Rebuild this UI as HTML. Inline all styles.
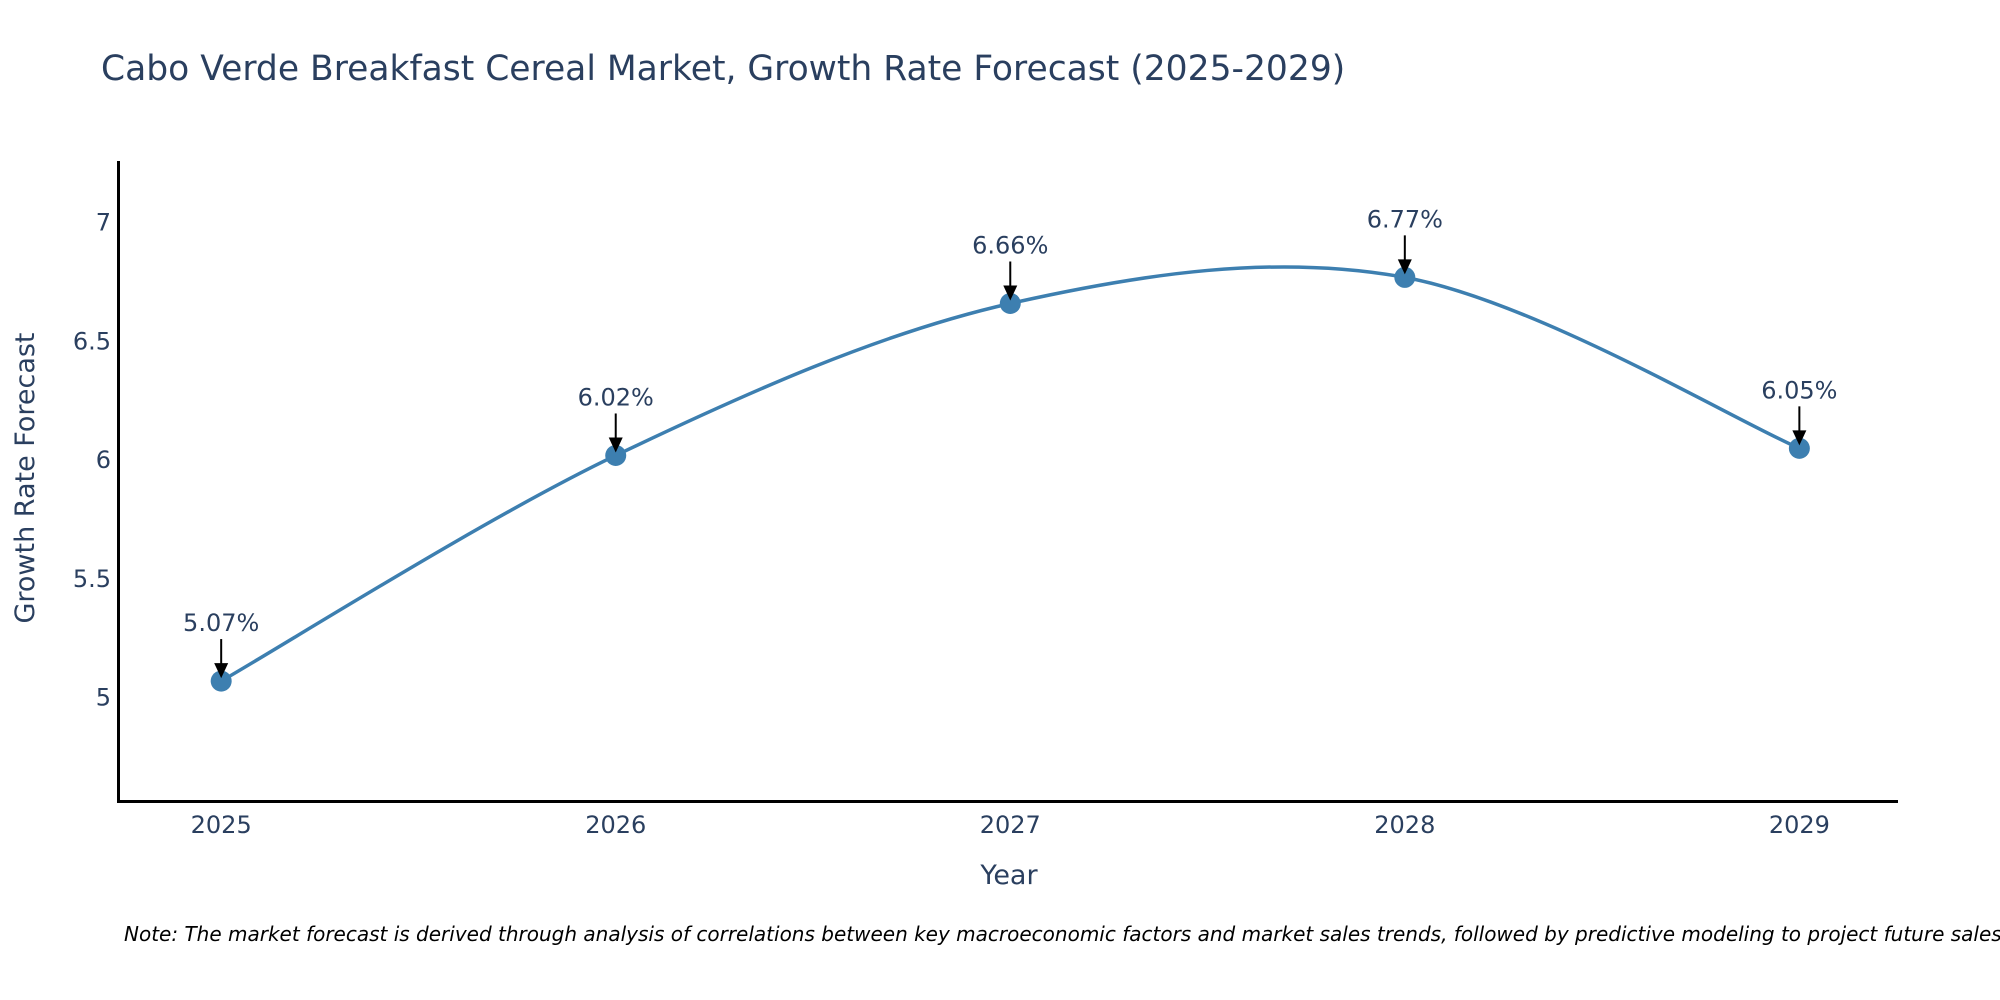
<!DOCTYPE html>
<html><head><meta charset="utf-8"><style>
html,body{margin:0;padding:0;background:#fff;}
svg{display:block;font-family:"DejaVu Sans","Liberation Sans",sans-serif;}
</style></head><body>
<svg id="chart" width="2000" height="1000" viewBox="0 0 2000 1000" xmlns="http://www.w3.org/2000/svg">
<text x="101" y="80" font-size="34.5" fill="#2a3f5f">Cabo Verde Breakfast Cereal Market, Growth Rate Forecast (2025-2029)</text>
<g id="grid"></g>
<g id="series"></g>
<g id="annots"></g>
<line x1="118.5" y1="161" x2="118.5" y2="802" stroke="#000" stroke-width="3"/>
<line x1="117" y1="801.5" x2="1898" y2="801.5" stroke="#000" stroke-width="3"/>
<text x="1009" y="884" font-size="27" fill="#2a3f5f" text-anchor="middle">Year</text>
<text transform="translate(34,478) rotate(-90)" font-size="27" fill="#2a3f5f" text-anchor="middle">Growth Rate Forecast</text>
<text x="124" y="941" font-size="20" font-style="italic" fill="#000">Note: The market forecast is derived through analysis of correlations between key macroeconomic factors and market sales trends, followed by predictive modeling to project future sales.</text>
</svg>
<script>
const years = [2025, 2026, 2027, 2028, 2029];
const growth = [5.07, 6.02, 6.66, 6.77, 6.05];
const labels = ["5.07%", "6.02%", "6.66%", "6.77%", "6.05%"];
const yTicks = [5, 5.5, 6, 6.5, 7];
const yTickLabels = ["5", "5.5", "6", "6.5", "7"];

const NS = "http://www.w3.org/2000/svg";
const xMin = 2024.74, xMax = 2029.25, pxL = 118.6, pxR = 1898;
const yMin = 4.565, yMax = 7.26, pyB = 801, pyT = 161;
function xs(v){ return pxL + (v - xMin) / (xMax - xMin) * (pxR - pxL); }
function ys(v){ return pyB - (v - yMin) / (yMax - yMin) * (pyB - pyT); }
function mk(tag, attrs, parent){ const e = document.createElementNS(NS, tag); for (const k in attrs) e.setAttribute(k, attrs[k]); parent.appendChild(e); return e; }

const grid = document.getElementById('grid');
yTicks.forEach((t, i) => {
  const tx = mk('text', {x: 111, y: ys(t) + 8, 'font-size': 24, fill: '#2a3f5f', 'text-anchor': 'end'}, grid);
  
  
  tx.textContent = yTickLabels[i];
});
years.forEach(yr => {
  const tx = mk('text', {x: xs(yr), y: 833, 'font-size': 24, fill: '#2a3f5f', 'text-anchor': 'middle'}, grid);
  
  
  tx.textContent = String(yr);
});

const pts = years.map((yr, i) => [xs(yr), ys(growth[i])]);
let d = `M${pts[0][0]},${pts[0][1]}`;
const s = 0.33;
for (let i = 0; i < pts.length - 1; i++) {
  const p0 = pts[Math.max(0, i - 1)], p1 = pts[i], p2 = pts[i + 1], p3 = pts[Math.min(pts.length - 1, i + 2)];
  const c1 = [p1[0] + (p2[0] - p0[0]) * s / 2, p1[1] + (p2[1] - p0[1]) * s / 2];
  const c2 = [p2[0] - (p3[0] - p1[0]) * s / 2, p2[1] - (p3[1] - p1[1]) * s / 2];
  d += ` C${c1[0]},${c1[1]} ${c2[0]},${c2[1]} ${p2[0]},${p2[1]}`;
}
const series = document.getElementById('series');
const line = mk('path', {d: d, fill: 'none', stroke: '#3d7fb0', 'stroke-width': 3.5}, series);


pts.forEach(p => {
  const c = mk('circle', {cx: p[0], cy: p[1], r: 10.5, fill: '#3d7fb0'}, series);
  
  
});

const ann = document.getElementById('annots');
pts.forEach((p, i) => {
  const ln = mk('line', {x1: p[0], y1: p[1] - 42, x2: p[0], y2: p[1] - 12, stroke: '#000', 'stroke-width': 2}, ann);
  
  
  const hd = mk('polygon', {points: `${p[0]-7},${p[1]-18} ${p[0]+7},${p[1]-18} ${p[0]},${p[1]-3}`, fill: '#000'}, ann);
  
  
  const t = mk('text', {x: p[0], y: p[1] - 50, 'font-size': 24, fill: '#2a3f5f', 'text-anchor': 'middle'}, ann);
  
  
  t.textContent = labels[i];
});
</script>
</body></html>
